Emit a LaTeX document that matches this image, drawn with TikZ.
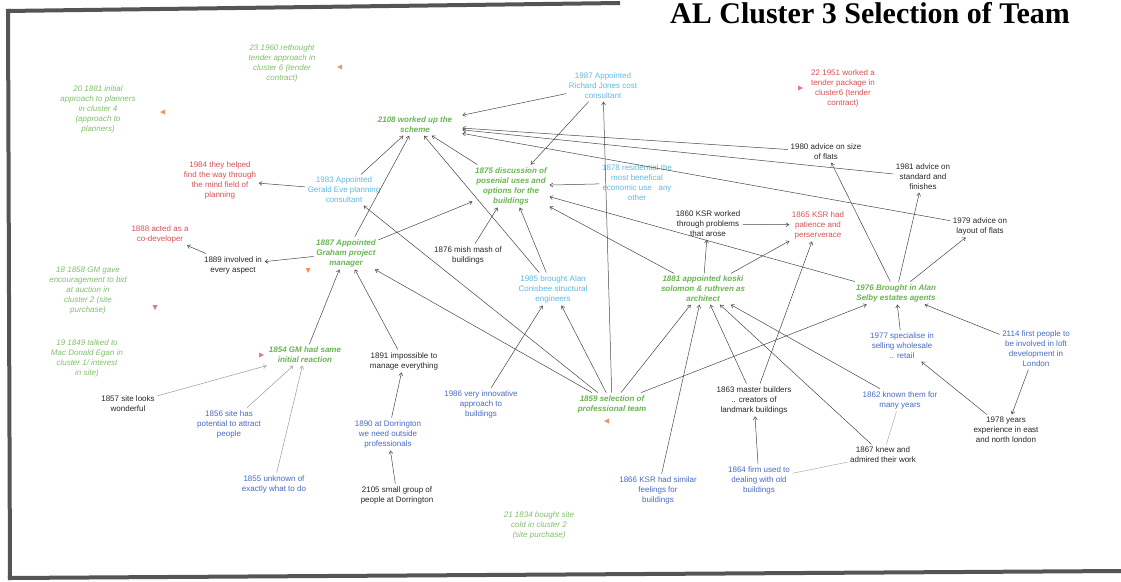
\documentclass[tikz,border=0pt]{standalone}
\usepackage{fontspec}
\setmainfont{Liberation Sans}
\newfontfamily\headfont{Liberation Serif}
\usetikzlibrary{arrows.meta}

\definecolor{leaf}{RGB}{105,180,80}
\definecolor{sky}{RGB}{95,185,225}
\definecolor{inkblue}{RGB}{70,105,195}
\definecolor{brick}{RGB}{215,80,85}
\definecolor{tag}{RGB}{240,150,90}
\definecolor{rose}{RGB}{230,120,140}
\definecolor{wire}{RGB}{70,70,70}
\definecolor{rim}{RGB}{85,85,85}

\begin{document}
\begin{tikzpicture}[x=1pt,y=-1pt,
    every node/.style={font=\fontsize{8}{10}\selectfont,align=center,inner sep=2.5pt},
    lead/.style={text=leaf,font=\fontsize{8}{10}\selectfont\bfseries\itshape},
    note/.style={text=leaf!85,font=\fontsize{8}{10}\selectfont\itshape},
    dark/.style={text=black!85},
    pale/.style={text=sky},
    deep/.style={text=inkblue},
    hot/.style={text=brick},
    tie/.style={draw=wire,line width=0.5pt,-{Straight Barb[length=3pt,width=4pt]}},
    thin/.style={draw=wire!45,line width=0.5pt}]
    \useasboundingbox(0,0)rectangle(1121,581);

    % frame and heading
    \draw[rim,line width=4pt](6,11)--(620,3);
    \draw[rim,line width=4pt](8,9)--(10,580);
    \draw[rim,line width=4pt](8,578)--(1121,571);
    \node[anchor=base west,inner sep=0pt,font={\headfont\fontsize{30}{34}\selectfont\bfseries}](T)at(670,23){AL Cluster 3 Selection of Team};

    % ideas
    \node[lead,inner xsep=10pt](Wk)at(415,125){2108 worked up the\\scheme};
    \node[pale](Rj)at(603,86){1987 Appointed\\Richard Jones cost\\consultant};
    \node[hot](Tp)at(843,88){22 1951 worked a\\tender package in\\cluster6 (tender\\contract)};
    \node[note](Rt)at(282,63){23 1960 rethought\\tender approach in\\cluster 6 (tender\\contract)};
    \node[note](Ia)at(98,109){20 1881 initial\\approach to planners\\in cluster 4\\(approach to\\planners)};
    \node[hot](Mf)at(220,180){1984 they helped\\find the way through\\the mind field of\\planning};
    \node[pale](Ge)at(344,190){1983 Appointed\\Gerald Eve planning\\consultant};
    \node[lead](Ds)at(511,186){1875 discussion of\\posenial uses and\\options for the\\buildings};
    \node[pale](Re)at(637,183){1878 residential the\\most benefical\\economic use \ \ any\\other};
    \node[dark](Sz)at(826,152){1980 advice on size\\of flats};
    \node[dark](Sf)at(923,177){1981 advice on\\standard and\\finishes};
    \node[dark](Lf)at(980,226){1979 advice on\\layout of flats};
    \node[dark](Pb)at(708,224){1860 KSR worked\\through problems\\that arose};
    \node[hot](Pp)at(818,225){1865 KSR had\\patience and\\perserverace};
    \node[hot](Cd)at(160,234){1888 acted as a\\co-developer};
    \node[dark](Ea)at(233,265){1889 involved in\\every aspect};
    \node[lead](Gp)at(346,253){1887 Appointed\\Graham project\\manager};
    \node[dark](Mm)at(468,255){1876 mish mash of\\buildings};
    \node[pale](Ac)at(553,289){1985 brought Alan\\Conisbee structural\\engineers};
    \node[lead](Ks)at(703,289){1881 appointed koski\\solomon \& ruthven as\\architect};
    \node[lead](As)at(896,293){1976 Brought in Alan\\Selby estates agents};
    \node[note](Eb)at(88,291){18 1858 GM gave\\encouragement to bid\\at auction in\\cluster 2 (site\\purchase)};
    \node[note](Me)at(87,358){19 1849 talked to\\Mac Donald Egan in\\cluster 1/ interest\\in site)};
    \node[lead](Ir)at(305,355){1854 GM had same\\initial reaction};
    \node[dark](Im)at(404,361){1891 impossible to\\manage everything};
    \node[dark](Sw)at(128,404){1857 site looks\\wonderful};
    \node[deep](Pa)at(229,424){1856 site has\\potential to attract\\people};
    \node[deep](Uk)at(274,484){1855 unknown of\\exactly what to do};
    \node[deep](Op)at(388,434){1890 at Dorrington\\we need outside\\professionals};
    \node[dark](Sg)at(397,495){2105 small group of\\people at Dorrington};
    \node[deep](Vi)at(481,404){1986 very innovative\\approach to\\buildings};
    \node[lead](Sp)at(612,404){1859 selection of\\professional team};
    \node[note](Sc)at(539,525){21 1834 bought site\\cold in cluster 2\\(site purchase)};
    \node[deep](Sm)at(658,490){1866 KSR had similar\\feelings for\\buildings};
    \node[dark](Mb)at(754,400){1863 master builders\\.. creators of\\landmark buildings};
    \node[deep](Ob)at(759,480){1864 firm used to\\dealing with old\\buildings};
    \node[deep](Ky)at(900,400){1862 known them for\\many years};
    \node[dark](Kw)at(883,455){1867 knew and\\admired their work};
    \node[deep](Wr)at(902,346){1977 specialise in\\selling wholesale\\.. retail};
    \node[deep](Lo)at(1036,349){2114 first people to\\be involved in loft\\development in\\London};
    \node[dark](Ye)at(1006,430){1978 years\\experience in east\\and north london};

    % small cluster tags
    \fill[tag](337,67)--++(5,-2.5)--++(0,5)--cycle;
    \fill[tag](160,112)--++(5,-2.5)--++(0,5)--cycle;
    \fill[tag](308,273)--++(-2.5,-5)--++(5,0)--cycle;
    \fill[tag](604,421)--++(5,-2.5)--++(0,5)--cycle;
    \fill[rose](803,88)--++(-5,-2.5)--++(0,5)--cycle;
    \fill[rose](155,310)--++(-2.5,-5)--++(5,0)--cycle;
    \fill[rose](264,355)--++(-5,-2.5)--++(0,5)--cycle;

    % links
    \draw[tie](Rj)--(Wk);
    \draw[tie](Sz)--(Wk);
    \draw[tie](Sf)--(Wk);
    \draw[tie](Lf)--(Wk);
    \draw[tie](Ge)--(Wk);
    \draw[tie](Gp)--(Wk);
    \draw[tie](Ac)--(Wk);
    \draw[tie](Ds)--(Wk);
    \draw[tie](Rj)--(Ds);
    \draw[tie](Sp)--(Rj);
    \draw[tie](Re)--(Ds);
    \draw[tie](Ge)--(Mf);
    \draw[tie](Sp)--(Ge);
    \draw[tie](Gp)--(Ea);
    \draw[tie](Ea)--(Cd);
    \draw[tie](Gp)--(Ds);
    \draw[tie](Mm)--(Ds);
    \draw[tie](Ac)--(Ds);
    \draw[tie](Ks)--(Ds);
    \draw[tie](As)--(Ds);
    \draw[tie](Ks)--(Pb);
    \draw[tie](Pb)--(Pp);
    \draw[tie](Ks)--(Pp);
    \draw[tie](Mb)--(Pp);
    \draw[tie](As)--(Sz);
    \draw[tie](As)--(Sf);
    \draw[tie](As)--(Lf);
    \draw[tie](Wr)--(As);
    \draw[tie](Lo)--(As);
    \draw[tie](Lo)--(Ye);
    \draw[tie](Ye)--(Wr);
    \draw[tie](Sp)--(As);
    \draw[tie](Sp)--(Ks);
    \draw[tie](Sm)--(Ks);
    \draw[tie](Mb)--(Ks);
    \draw[tie](Kw)--(Ks);
    \draw[tie](Ky)--(Ks);
    \draw[tie](Sp)--(Gp);
    \draw[tie](Ir)--(Gp);
    \draw[tie](Im)--(Gp);
    \draw[tie](Op)--(Im);
    \draw[tie](Sg)--(Op);
    \draw[tie,draw=wire!55](Sw)--(Ir);
    \draw[tie,draw=wire!55](Pa)--(Ir);
    \draw[tie,draw=wire!55](Uk)--(Ir);
    \draw[tie](Ob)--(Mb);
    \draw[tie](Vi)--(Ac);
    \draw[tie](Sp)--(Ac);
    \draw[thin](Ob)--(Kw);
    \draw[thin](Kw)--(Ky);
\end{tikzpicture}
\end{document}
